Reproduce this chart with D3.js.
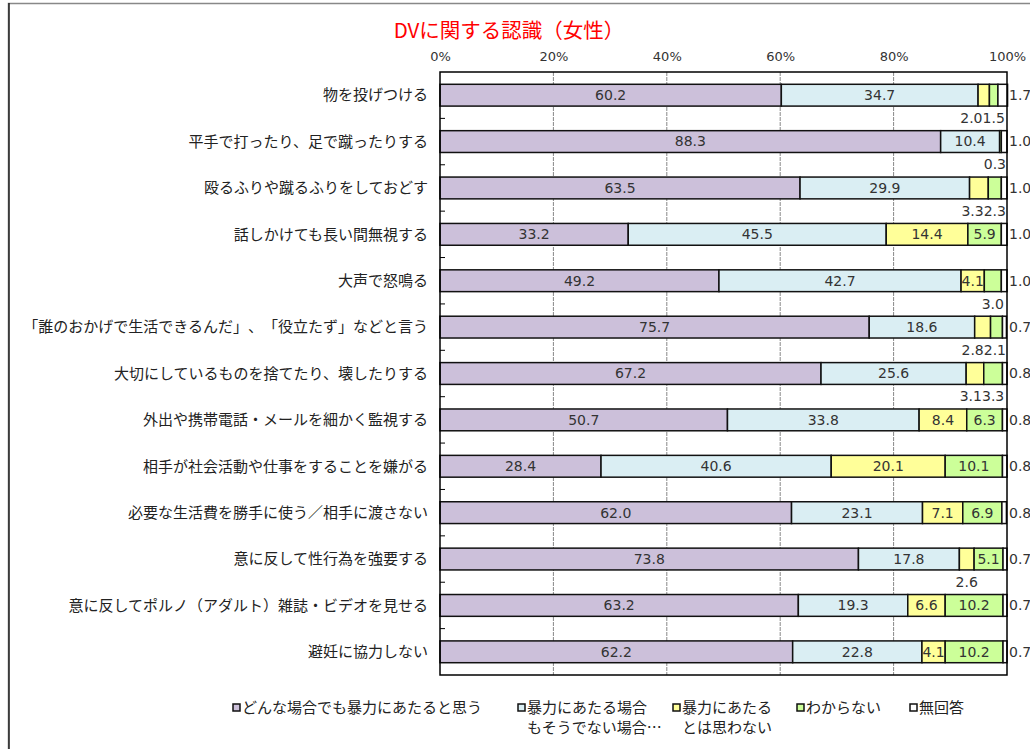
<!DOCTYPE html>
<html><head><meta charset="utf-8">
<script src="https://cdn.jsdelivr.net/npm/d3@7"></script>
<style>
body{margin:0;background:#fff;}
text{font-family:"Noto Sans CJK JP","Noto Sans",sans-serif;text-spacing-trim:space-all;}
text.num{font-family:"DejaVu Sans",sans-serif;}
</style></head>
<body><svg id="c" width="1030" height="749"></svg>
<script>
const title = "DVに関する認識（女性）";
const categories = [
  "物を投げつける",
  "平手で打ったり、足で蹴ったりする",
  "殴るふりや蹴るふりをしておどす",
  "話しかけても長い間無視する",
  "大声で怒鳴る",
  "「誰のおかげで生活できるんだ」、「役立たず」などと言う",
  "大切にしているものを捨てたり、壊したりする",
  "外出や携帯電話・メールを細かく監視する",
  "相手が社会活動や仕事をすることを嫌がる",
  "必要な生活費を勝手に使う／相手に渡さない",
  "意に反して性行為を強要する",
  "意に反してポルノ（アダルト）雑誌・ビデオを見せる",
  "避妊に協力しない"
];
const always      = [60.2, 88.3, 63.5, 33.2, 49.2, 75.7, 67.2, 50.7, 28.4, 62.0, 73.8, 63.2, 62.2];
const depends     = [34.7, 10.4, 29.9, 45.5, 42.7, 18.6, 25.6, 33.8, 40.6, 23.1, 17.8, 19.3, 22.8];
const notViolence = [2.0, 0.0, 3.3, 14.4, 4.1, 2.8, 3.1, 8.4, 20.1, 7.1, 2.6, 6.6, 4.1];
const dontKnow    = [1.5, 0.3, 2.3, 5.9, 3.0, 2.1, 3.3, 6.3, 10.1, 6.9, 5.1, 10.2, 10.2];
const noAnswer    = [1.7, 1.0, 1.0, 1.0, 1.0, 0.7, 0.8, 0.8, 0.8, 0.8, 0.7, 0.7, 0.7];
const seriesLegend = [
  ["どんな場合でも暴力にあたると思う"],
  ["暴力にあたる場合", "もそうでない場合…"],
  ["暴力にあたる", "とは思わない"],
  ["わからない"],
  ["無回答"]
];
const tickValues = [0, 20, 40, 60, 80, 100];
const colors = ["#CCC0DA", "#DAEEF3", "#FFFF99", "#CCFF99", "#FFFFFF"];

const seriesData = [always, depends, notViolence, dontKnow, noAnswer];
const svg = d3.select("#c");
const L = 440, R = 1007, T = 72, B = 675;

// outer frame
svg.append("rect").attr("x", 8.5).attr("y", 3.5).attr("width", 1100).attr("height", 800)
  .attr("fill", "none").attr("stroke", "#888").attr("stroke-width", 1.5);
svg.append("line").attr("x1", 9).attr("x2", 9).attr("y1", 3).attr("y2", 749).attr("stroke", "#222").attr("stroke-width", 1.5);

svg.append("text").attr("x", 509).attr("y", 38).attr("text-anchor", "middle")
  .attr("fill", "#FF0000").attr("font-size", 20.5).text(title);

const x = d3.scaleLinear().domain([0, 100]).range([L, R]);
const y = d3.scaleBand().domain(categories).range([T, B]).paddingInner(0.53).paddingOuter(0.265);
const step = y.step();

// gridlines
svg.append("g").selectAll("line").data(tickValues.slice(1, -1)).join("line")
  .attr("x1", d => x(d)).attr("x2", d => x(d)).attr("y1", T).attr("y2", B)
  .attr("stroke", "#888").attr("stroke-width", 1).attr("stroke-dasharray", "4,1");

// top axis
const ax = svg.append("g").attr("transform", `translate(0,${T - 8})`)
  .call(d3.axisTop(x).tickValues(tickValues).tickSize(0).tickFormat(d => d + "%"));
ax.select(".domain").remove();
ax.selectAll("text").attr("class", "num").attr("font-size", 13).attr("fill", "#333")
  .style("font-family", '"DejaVu Sans",sans-serif');

// category tick marks (band boundaries)
svg.append("g").selectAll("line").data(d3.range(1, categories.length)).join("line")
  .attr("x1", L).attr("x2", L + 5).attr("y1", i => T + i * step).attr("y2", i => T + i * step)
  .attr("stroke", "#000").attr("stroke-width", 1);

// category labels
svg.append("g").selectAll("text").data(categories).join("text")
  .attr("x", 428).attr("y", d => y(d) + y.bandwidth() / 2).attr("dy", "0.35em")
  .attr("text-anchor", "end").attr("font-size", 15).attr("fill", "#222").text(d => d);

// stacked data
const rows = categories.map((c, i) => {
  let acc = 0;
  return seriesData.map((s, k) => {
    const v = s[i]; const seg = {cat: c, k, v, x0: acc, x1: acc + v}; acc += v; return seg;
  });
});

const gBars = svg.append("g");
rows.forEach(r => {
  gBars.selectAll(null).data(r.filter(s => s.v > 0)).join("rect")
    .attr("x", s => x(s.x0)).attr("width", s => x(s.x1) - x(s.x0))
    .attr("y", s => y(s.cat)).attr("height", y.bandwidth())
    .attr("fill", s => colors[s.k]).attr("stroke", "#111").attr("stroke-width", 1.5);
});

// frame
svg.append("rect").attr("x", L).attr("y", T).attr("width", R - L).attr("height", B - T)
  .attr("fill", "none").attr("stroke", "#000").attr("stroke-width", 1.5);

// labels
const gLab = svg.append("g").attr("font-size", 14).attr("fill", "#333");
rows.forEach(r => {
  const cy = y(r[0].cat) + y.bandwidth() / 2;
  const below = [];
  r.forEach(s => {
    if (s.k === 4) {
      gLab.append("text").attr("class", "num").attr("x", R + 2).attr("y", cy).attr("dy", "0.35em").text(s.v.toFixed(1));
    } else if (s.v >= 4) {
      gLab.append("text").attr("class", "num").attr("x", x((s.x0 + s.x1) / 2)).attr("y", cy).attr("dy", "0.35em")
        .attr("text-anchor", "middle").text(s.v.toFixed(1));
    } else if (s.v > 0) {
      below.push(s);
    }
  });
  let limit = R - 1;
  below.slice().reverse().forEach(s => {
    const t = gLab.append("text").attr("class", "num").attr("y", y(s.cat) + y.bandwidth() + 12).attr("dy", "0.35em")
      .attr("text-anchor", "middle").text(s.v.toFixed(1));
    const w = t.node().getComputedTextLength();
    let c = Math.min(x((s.x0 + s.x1) / 2), limit - w / 2);
    t.attr("x", c);
    limit = c - w / 2;
  });
});

// legend
const legX = [233, 518, 673, 797, 910];
const gLeg = svg.append("g");
seriesLegend.forEach((lines, k) => {
  gLeg.append("rect").attr("x", legX[k]).attr("y", 704).attr("width", 7).attr("height", 7)
    .attr("fill", colors[k]).attr("stroke", "#111").attr("stroke-width", 1.5);
  lines.forEach((ln, j) => {
    gLeg.append("text").attr("x", legX[k] + 9).attr("y", 708 + j * 20)
      .attr("dy", "0.35em").attr("font-size", 15).attr("fill", "#222").text(ln);
  });
});
</script></body></html>
